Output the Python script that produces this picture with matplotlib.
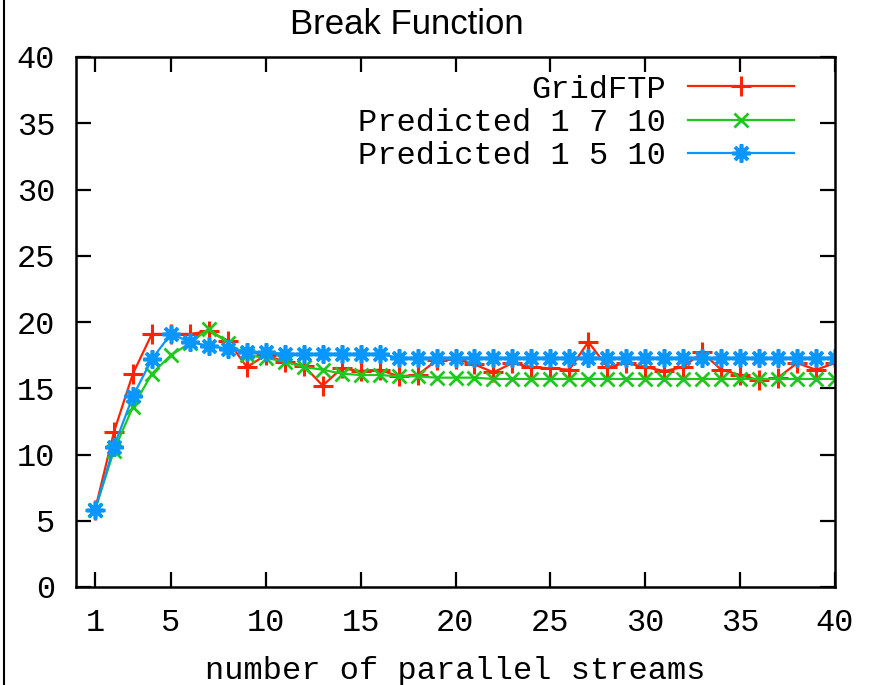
import matplotlib
matplotlib.use("Agg")
import matplotlib.pyplot as plt
from matplotlib.lines import Line2D

streams = list(range(1, 41))
gridftp = [5.8, 11.7, 16.1, 19.1, 19.1, 19.1, 19.3, 18.6, 16.6, 17.5,
           17.0, 16.7, 15.2, 16.5, 16.3, 16.4, 15.9, 16.0, 17.1, 17.2,
           16.8, 16.2, 16.9, 16.6, 16.5, 16.4, 18.5, 16.6, 16.9, 16.6,
           16.3, 16.6, 17.7, 16.4, 16.0, 15.6, 15.8, 16.9, 16.4, 16.9]
pred_1_7_10 = [5.8, 10.3, 13.6, 16.1, 17.5, 18.4, 19.5, 18.4, 17.5, 17.3,
               17.0, 16.6, 16.4, 16.1, 16.0, 16.0, 15.9, 15.9, 15.8, 15.8,
               15.8, 15.7, 15.7, 15.7, 15.7, 15.7, 15.7, 15.7, 15.7, 15.7,
               15.7, 15.7, 15.7, 15.7, 15.7, 15.7, 15.7, 15.7, 15.7, 15.7]
pred_1_5_10 = [5.8, 10.6, 14.4, 17.2, 19.1, 18.5, 18.2, 18.0, 17.7, 17.7,
               17.6, 17.6, 17.6, 17.6, 17.6, 17.6, 17.3, 17.3, 17.3, 17.3,
               17.3, 17.3, 17.3, 17.3, 17.3, 17.3, 17.3, 17.3, 17.3, 17.3,
               17.3, 17.3, 17.3, 17.3, 17.3, 17.3, 17.3, 17.3, 17.3, 17.3]
labels = ["GridFTP", "Predicted 1 7 10", "Predicted 1 5 10"]
xticks = [1, 5, 10, 15, 20, 25, 30, 35, 40]
yticks = [0, 5, 10, 15, 20, 25, 30, 35, 40]

mono = "Liberation Mono"
fs = 23

fig = plt.figure(figsize=(8.69, 6.85), dpi=100)
ax = fig.add_axes([76/869, 1-587/685, (835-76)/869, (587-57)/685])

ax.plot(streams, gridftp, color="#ff2400", lw=1.6, marker="+", ms=14, mew=2.2, label=labels[0])
ax.plot(streams, pred_1_7_10, color="#1ec81e", lw=1.6, marker="x", ms=10, mew=2.0, label=labels[1])
ax.plot(streams, pred_1_5_10, color="#0a96ff", lw=1.6, marker=(8, 2, 0), ms=13, mew=2.6, label=labels[2])

ax.set_xlim(0, 40)
ax.set_ylim(0, 40)
ax.set_xticks(xticks)
ax.set_yticks(yticks)
ax.tick_params(direction="in", length=11, width=1.6, top=True, right=True,
               labelsize=fs, pad=15)
for lab in ax.get_xticklabels() + ax.get_yticklabels():
    lab.set_family(mono)
for s in ax.spines.values():
    s.set_linewidth(1.8)

ax.set_xlabel("number of parallel streams", family=mono, fontsize=fs, labelpad=13)

leg = ax.legend(loc="upper right", frameon=False, markerfirst=False,
                prop={"family": mono, "size": fs}, handlelength=3.3,
                alignment="right", borderaxespad=0.3, labelspacing=0.1,
                handletextpad=0.7, bbox_to_anchor=(0.975, 1.009))

fig.text(407/869, 1-25/685, "Break Function", family="Liberation Sans",
         fontsize=25, ha="center", va="center")

fig.add_artist(Line2D([4/869, 4/869], [0, 1], color="black", lw=1.5,
                      transform=fig.transFigure))

fig.savefig("out.png", dpi=100)
